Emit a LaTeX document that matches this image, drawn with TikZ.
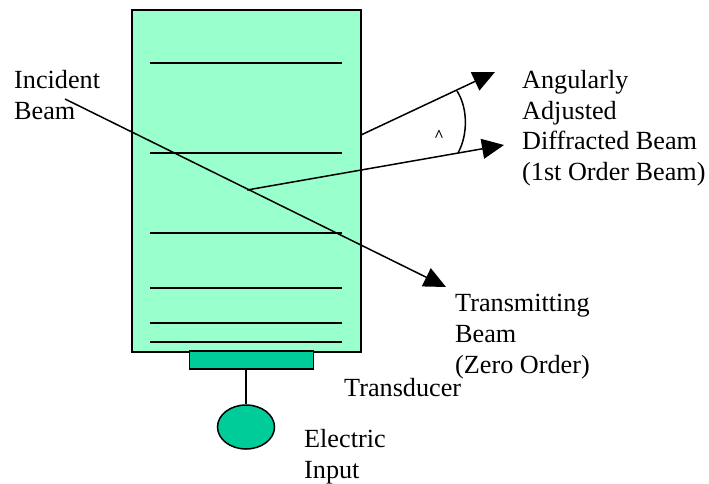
\documentclass[tikz,border=0pt]{standalone}
\usepackage{fontspec}
\setmainfont{Liberation Serif}
\usetikzlibrary{arrows.meta,shapes.geometric}
\definecolor{tank}{HTML}{99FFCC}
\definecolor{sea}{HTML}{00CC99}
\tikzset{x=1pt,y=-1pt,
 lbl/.style={anchor=north west,inner sep=0pt,align=left,font=\fontsize{26.2}{30.8}\selectfont},
 ln/.style={draw=black,line width=1.5pt},
 beam/.style={ln,-{Triangle[length=22pt,width=20pt]}}}
\begin{document}
\begin{tikzpicture}
\useasboundingbox (0,0) rectangle (709,483);
\node[ln,fill=tank,minimum width=229pt,minimum height=342pt,inner sep=0pt] (tank) at (246.5,181) {};
\foreach \i/\y in {a/63,b/153,c/233,d/288,e/323,f/342}
  \coordinate (\i) at (246,\y);
\foreach \i in {a,b,c,d,e,f}
  \draw[ln] ([xshift=-96pt]\i) -- ([xshift=96pt]\i);
\node[ln,fill=sea,minimum width=124pt,minimum height=18pt,inner sep=0pt] (trans) at (251.5,360) {};
\node[ln,fill=sea,ellipse,minimum width=57pt,minimum height=44pt,inner sep=0pt] (elec) at (246,427) {};
\draw[ln] (elec.north |- trans.south) -- (elec.north);
\coordinate (i0) at (65,99);
\coordinate (i1) at (446,287);
\draw[beam] (i0) -- (i1);
\coordinate (o1) at (361,135);
\coordinate (o2) at (495,72);
\draw[beam] (o1) -- (o2);
\coordinate (p1) at (247,190);
\coordinate (p2) at (504,145);
\draw[beam] (p1) -- (p2);
\coordinate (r1) at (457,91);
\coordinate (r2) at (458,153);
\draw[ln] (r1) .. controls (468,108) and (468,135) .. (r2);
\node[inner sep=0pt,font=\fontsize{17}{17}\selectfont\bfseries] (ang) at (439,136) {\^{}};
\node[lbl] (l1) at (14,70) {Incident\\Beam};
\node[lbl] (l2) at (522,70) {Angularly\\Adjusted\\Diffracted Beam\\(1st Order Beam)};
\node[lbl] (l3) at (455,294) {Transmitting\\Beam\\(Zero Order)};
\node[lbl] (l4) at (344,378) {Transducer};
\node[lbl] (l5) at (304,429) {Electric\\Input};
\end{tikzpicture}
\end{document}
